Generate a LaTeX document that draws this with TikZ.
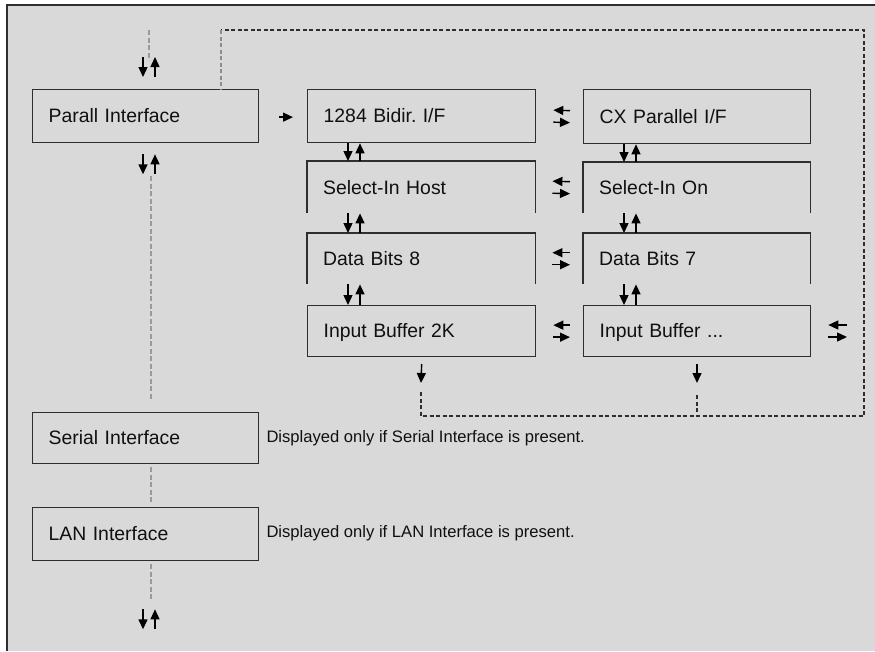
\documentclass[tikz,border=0pt]{standalone}
\usepackage{fontspec}
\setmainfont{Liberation Sans}
\usetikzlibrary{arrows.meta,calc}
\definecolor{bg}{HTML}{D9D9D9}
\definecolor{ink}{HTML}{2E2E2E}
\definecolor{txt}{HTML}{101010}
\definecolor{dgray}{HTML}{8C8C8C}
\definecolor{lgray}{HTML}{9A9A9A}
\tikzset{
  boxbase/.style={anchor=north west, inner xsep=16pt, inner ysep=0pt, align=left,
    font=\frenchspacing\fontsize{19.4}{22}\selectfont, text=txt, text height=13.6pt, text depth=0pt},
  closedbox/.style={boxbase, draw=ink, line width=1.3pt},
  openbox/.style={boxbase, draw=none},
  opendraw/.style={draw=ink, line width=1.3pt},
  arr/.style={draw=black, line width=1.4pt, -{Triangle[length=10pt,width=9pt]}},
  graydash/.style={draw=lgray, line width=1.6pt, dash pattern=on 5pt off 2.5pt},
  loopdash/.style={draw=ink, line width=1.3pt, dash pattern=on 4pt off 2.5pt},
  note/.style={anchor=base west, inner sep=0pt, font=\frenchspacing\fontsize{16.6}{19}\selectfont, text=txt},
}
\begin{document}
\begin{tikzpicture}[x=1pt,y=-1pt]
\useasboundingbox (0,0) rectangle (875,651);
\fill[white] (0,0) rectangle (875,651);
\fill[bg] (7,5) rectangle (875,651);
\draw[ink, line width=2pt] (7,651) -- (7,5) -- (875,5);

% left column
\node[closedbox, minimum width=226pt, minimum height=53pt, text width=194pt] (parall) at (32,89) {Parall Interface};
\node[closedbox, minimum width=226pt, minimum height=51pt, text width=194pt] (serial) at (32,412) {Serial Interface};
\node[closedbox, minimum width=226pt, minimum height=53pt, text width=194pt] (lan) at (32,507) {LAN Interface};

% middle column
\node[closedbox, minimum width=228pt, minimum height=53pt, text width=196pt] (b1284) at (307,89) {1284 Bidir. I/F};
\node[openbox, minimum width=228pt, minimum height=52pt, text width=196pt] (selhost) at (307,161) {Select-In Host};
\node[openbox, minimum width=228pt, minimum height=51pt, text width=196pt] (db8) at (307,233) {Data Bits 8};
\node[closedbox, minimum width=228pt, minimum height=51pt, text width=196pt] (ib2k) at (307,305) {Input Buffer 2K};

% right column
\node[closedbox, minimum width=227pt, minimum height=54pt, text width=195pt] (cx) at (583,89) {CX Parallel I/F};
\node[openbox, minimum width=227pt, minimum height=51pt, text width=195pt] (selon) at (583,162) {Select-In On};
\node[openbox, minimum width=227pt, minimum height=51pt, text width=195pt] (db7) at (583,233) {Data Bits 7};
\node[closedbox, minimum width=227pt, minimum height=51pt, text width=195pt] (ibx) at (583,305) {Input Buffer ...};

% open boxes
\foreach \n in {selhost,db8,selon,db7}{
  \draw[opendraw] (\n.south west) -- (\n.north west) -- (\n.north east) -- (\n.south east);
}

% notes
\node[note] (nser) at ($(serial.east)+(7,4)$) {Displayed only if Serial Interface is present.};
\node[note] (nlan) at ($(lan.east)+(7,3.5)$) {Displayed only if LAN Interface is present.};

% left column dashed lines and arrows
\coordinate (ltop) at (149,30);
\coordinate (ltopa) at (149,60);
\draw[graydash] (ltop) -- (ltopa);
\draw[arr] ([xshift=111pt,yshift=32pt]parall.north west) -- ([xshift=111pt,yshift=12pt]parall.north west);
\draw[arr] ([xshift=123pt,yshift=12pt]parall.north west) -- ([xshift=123pt,yshift=32pt]parall.north west);
\draw[arr] ([xshift=111pt,yshift=-11pt]parall.south west) -- ([xshift=111pt,yshift=-31pt]parall.south west);
\draw[arr] ([xshift=123pt,yshift=-31pt]parall.south west) -- ([xshift=123pt,yshift=-11pt]parall.south west);
\draw[graydash] ([xshift=119pt,yshift=-33pt]parall.south west) -- ([xshift=119pt,yshift=12pt]serial.north west);
\draw[graydash] ([xshift=119pt,yshift=-3pt]serial.south west) -- ([xshift=119pt,yshift=3pt]lan.north west);
\draw[graydash] ([xshift=119pt,yshift=-3pt]lan.south west) -- ([xshift=119pt,yshift=-40pt]lan.south west);
\draw[arr] ([xshift=111pt,yshift=-48pt]lan.south west) -- ([xshift=111pt,yshift=-68pt]lan.south west);
\draw[arr] ([xshift=123pt,yshift=-68pt]lan.south west) -- ([xshift=123pt,yshift=-48pt]lan.south west);

% parall -> 1284
\draw[arr] ([xshift=20pt,yshift=-1pt]parall.east) -- ([xshift=-14pt,yshift=-1pt]b1284.west);

% vertical pairs
\foreach \a/\b in {b1284/selhost,selhost/db8,db8/ib2k,cx/selon,selon/db7,db7/ibx}{
  \draw[arr] ([xshift=41pt]\a.south west) -- ([xshift=41pt]\b.north west);
  \draw[arr] ([xshift=53pt]\b.north west) -- ([xshift=53pt]\a.south west);
}

% horizontal pairs
\foreach \a/\b in {b1284/cx,selhost/selon,db8/db7,ib2k/ibx}{
  \draw[arr] ([xshift=-13pt,yshift=6pt]\b.west) -- ([xshift=17pt,yshift=6pt]\a.east);
  \draw[arr] ([xshift=17pt,yshift=-6pt]\a.east) -- ([xshift=-13pt,yshift=-6pt]\b.west);
}
\coordinate (rpa) at (847,325);
\coordinate (rpb) at (847,337);
\draw[arr] (rpa) -- ([xshift=17pt]ibx.east |- rpa);
\draw[arr] ([xshift=17pt]ibx.east |- rpb) -- (rpb);

% down arrows below input buffers and loop
\coordinate (d1) at (421,383);
\coordinate (d2) at (697,383);
\draw[arr] (ib2k.south |- 0,364) -- (d1);
\draw[arr] (d2 |- 0,364) -- (d2);
\coordinate (lb1) at (421,392);
\coordinate (lb2) at (697,395);
\coordinate (lbr) at (864,416);
\coordinate (ltr) at (864,30);
\coordinate (ltl) at (221,30);
\draw[loopdash] (lb1) |- (lbr) -- (ltr) -- (ltl);
\draw[loopdash] (lb2) -- (lb2 |- lbr);
\draw[draw=dgray, line width=1.6pt, dash pattern=on 4pt off 2.5pt] (ltl) -- (ltl |- parall.north);
\end{tikzpicture}
\end{document}
